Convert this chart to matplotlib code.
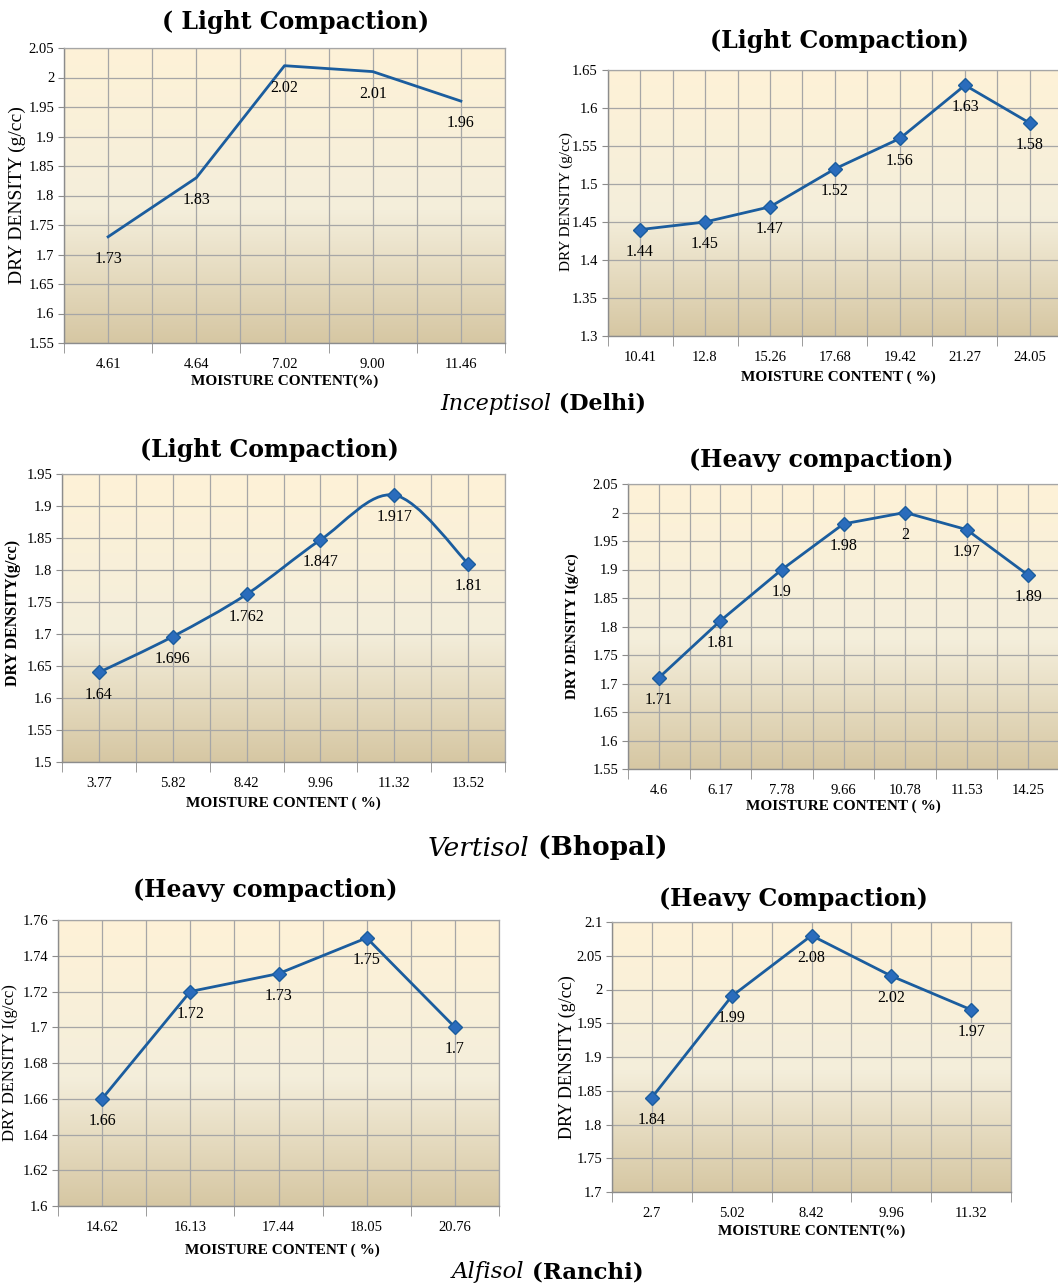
import matplotlib.pyplot as plt
import numpy as np
from matplotlib.path import Path
from matplotlib.patches import PathPatch

# Compaction curves for three soils (Delhi, Bhopal, Ranchi)
W, H = 1058, 1287

p1_x = ['4.61', '4.64', '7.02', '9.00', '11.46']
p1_y = [1.73, 1.83, 2.02, 2.01, 1.96]

p2_x = ['10.41', '12.8', '15.26', '17.68', '19.42', '21.27', '24.05']
p2_y = [1.44, 1.45, 1.47, 1.52, 1.56, 1.63, 1.58]

p3_x = ['3.77', '5.82', '8.42', '9.96', '11.32', '13.52']
p3_y = [1.64, 1.696, 1.762, 1.847, 1.917, 1.81]

p4_x = ['4.6', '6.17', '7.78', '9.66', '10.78', '11.53', '14.25']
p4_y = [1.71, 1.81, 1.9, 1.98, 2, 1.97, 1.89]

p5_x = ['14.62', '16.13', '17.44', '18.05', '20.76']
p5_y = [1.66, 1.72, 1.73, 1.75, 1.7]

p6_x = ['2.7', '5.02', '8.42', '9.96', '11.32']
p6_y = [1.84, 1.99, 2.08, 2.02, 1.97]

plt.rcParams['font.family'] = ['Liberation Serif', 'DejaVu Serif']
WIDE = ['DejaVu Serif']

LINE = '#1b5d9e'
MFACE = '#2a6cbc'
GRID = '#a6a6a6'

fig = plt.figure(figsize=(W / 100, H / 100), dpi=100)
fig.patch.set_facecolor('white')

# parchment-like gradient
stops = np.array([[254, 242, 215], [244, 238, 219], [214, 199, 163]]) / 255.0
tt = np.linspace(0, 1, 256)
grad = np.stack([np.interp(tt, [0, 0.55, 1], stops[:, c]) for c in range(3)], axis=1)
grad = grad[:, None, :]


def px(x, y):
    return x / W, 1 - y / H


def panel(rect, xlabels, yvals, ylim, ystep, markers=True, smooth=False):
    l, t, r, b = rect
    ax = fig.add_axes([l / W, 1 - b / H, (r - l) / W, (b - t) / H])
    n = len(xlabels)
    xs = np.arange(n)
    ax.set_xlim(-0.5, n - 0.5)
    ax.set_ylim(*ylim)
    ax.imshow(grad, extent=[-0.5, n - 0.5, ylim[0], ylim[1]], aspect='auto',
              zorder=0, interpolation='bilinear')
    yt = np.round(np.arange(ylim[0], ylim[1] + ystep / 2, ystep), 3)
    ax.set_yticks(yt)
    ax.set_yticklabels([f'{v:g}' for v in yt], fontsize=10.5)
    ax.set_xticks(xs)
    ax.set_xticklabels(xlabels, fontsize=10.5)
    ax.set_xticks(np.arange(n + 1) - 0.5, minor=True)
    ax.tick_params(axis='x', which='major', length=0, pad=11)
    ax.tick_params(axis='x', which='minor', length=7, color='#8c8c8c', direction='out')
    ax.tick_params(axis='y', length=4, color='#8c8c8c', pad=3)
    ax.grid(True, which='both', color=GRID, linewidth=0.9, zorder=1)
    ax.set_axisbelow(True)
    for s in ['top', 'right']:
        ax.spines[s].set_color(GRID)
        ax.spines[s].set_linewidth(0.9)
    for s in ['left', 'bottom']:
        ax.spines[s].set_color('#8c8c8c')
        ax.spines[s].set_linewidth(1.0)
    yv = np.array(yvals, dtype=float)
    if smooth:
        verts = [(xs[0], yv[0])]
        codes = [Path.MOVETO]
        P = np.column_stack([xs, yv])
        for i in range(n - 1):
            p0 = P[max(i - 1, 0)]
            p1 = P[i]
            p2 = P[i + 1]
            p3 = P[min(i + 2, n - 1)]
            c1 = p1 + (p2 - p0) / 6
            c2 = p2 - (p3 - p1) / 6
            verts += [tuple(c1), tuple(c2), tuple(p2)]
            codes += [Path.CURVE4] * 3
        ax.add_patch(PathPatch(Path(verts, codes), fill=False, edgecolor=LINE,
                               linewidth=2.0, zorder=3))
    else:
        ax.plot(xs, yv, color=LINE, linewidth=2.0, zorder=3)
    if markers:
        ax.plot(xs, yv, linestyle='none', marker='D', markersize=7,
                markerfacecolor=MFACE, markeredgecolor=LINE, zorder=4)
    for xi, yi in zip(xs, yv):
        ax.annotate(f'{yi:g}', (xi, yi), textcoords='offset points', xytext=(0, -16),
                    ha='center', va='center', fontsize=11.5, zorder=5)
    return ax


panel((64, 48, 505, 343), p1_x, p1_y, (1.55, 2.05), 0.05, markers=False)
panel((607.5, 70, 1062.5, 336), p2_x, p2_y, (1.3, 1.65), 0.05)
panel((62, 474, 505, 762), p3_x, p3_y, (1.5, 1.95), 0.05, smooth=True)
panel((628, 484, 1059, 769), p4_x, p4_y, (1.55, 2.05), 0.05)
panel((58, 920, 499, 1206), p5_x, p5_y, (1.6, 1.76), 0.02)
panel((612, 922, 1011, 1192), p6_x, p6_y, (1.7, 2.1), 0.05)

# panel titles
titles = [('( Light Compaction)', 296, 22), ('(Light Compaction)', 839, 41),
          ('(Light Compaction)', 269, 450), ('(Heavy compaction)', 821, 460),
          ('(Heavy compaction)', 265, 890), ('(Heavy Compaction)', 793, 899)]
for txt, x, y in titles:
    fig.text(*px(x, y), txt, ha='center', va='center', fontsize=17,
             fontweight='bold', family=WIDE)

# y labels
ylabels = [('DRY DENSITY (g/cc)', 17, 195, 14, 'normal'),
           ('DRY DENSITY (g/cc)', 566, 202, 11, 'normal'),
           ('DRY DENSITY(g/cc)', 13, 613, 11.5, 'bold'),
           ('DRY DENSITY I(g/cc)', 572, 626, 10.8, 'bold'),
           ('DRY DENSITY I(g/cc)', 10, 1063, 12, 'normal'),
           ('DRY DENSITY (g/cc)', 567, 1057, 13, 'normal')]
for txt, x, y, fs, fw in ylabels:
    fig.text(*px(x, y), txt, ha='center', va='center', rotation=90,
             fontsize=fs, fontweight=fw)

# x labels
xlabels = [('MOISTURE CONTENT(%)', 285, 381), ('MOISTURE CONTENT ( %)', 838, 377),
           ('MOISTURE CONTENT ( %)', 283, 803), ('MOISTURE CONTENT ( %)', 843, 806),
           ('MOISTURE CONTENT ( %)', 282, 1250), ('MOISTURE CONTENT(%)', 812, 1231)]
for txt, x, y in xlabels:
    fig.text(*px(x, y), txt, ha='center', va='center', fontsize=11, fontweight='bold')

# soil captions
captions = [('Inceptisol', ' (Delhi)', 551, 404, 16),
            ('Vertisol', ' (Bhopal)', 529, 848, 19),
            ('Alfisol', ' (Ranchi)', 524, 1272, 16.5)]
for it, bd, x, y, fs in captions:
    fig.text(*px(x, y), it, ha='right', va='center', fontsize=fs,
             fontstyle='italic', family=WIDE)
    fig.text(*px(x, y), bd, ha='left', va='center', fontsize=fs,
             fontweight='bold', family=WIDE)

plt.savefig('out.png', dpi=100)
plt.close()
